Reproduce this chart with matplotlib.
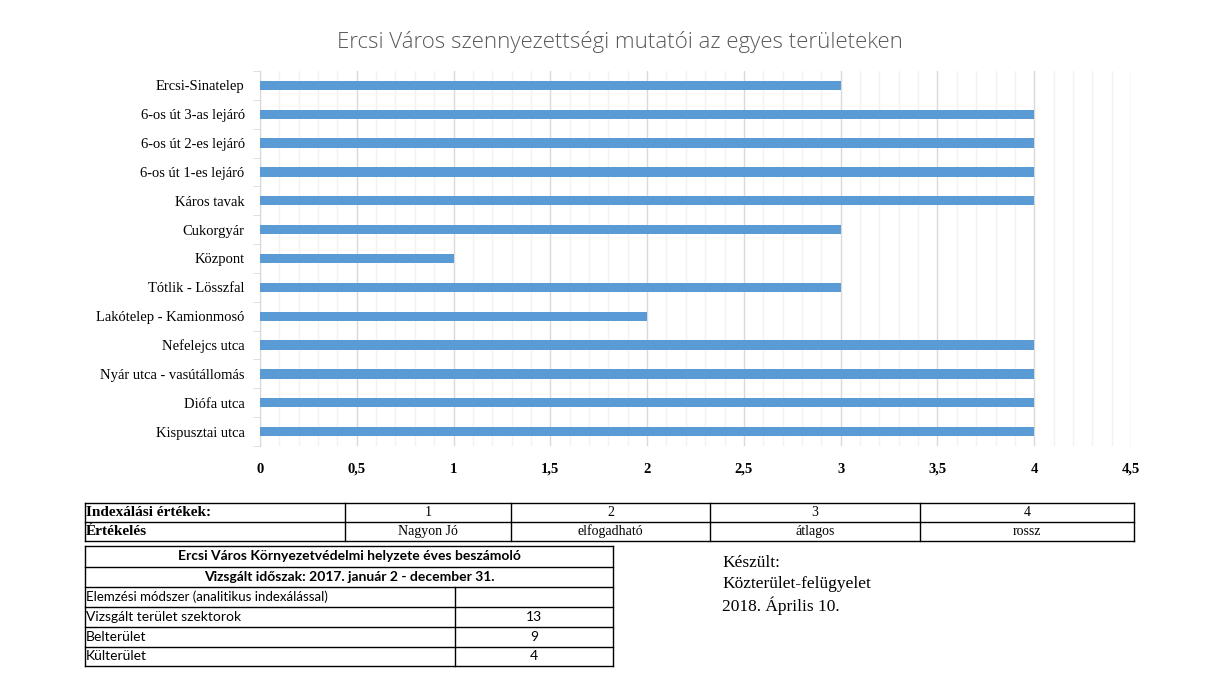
import matplotlib.pyplot as plt
from matplotlib.ticker import MultipleLocator, FuncFormatter
import numpy as np

# chart data (bottom to top in the picture)
areas = ["Kispusztai utca", "Diófa utca", "Nyár utca - vasútállomás", "Nefelejcs utca",
         "Lakótelep - Kamionmosó", "Tótlik - Lösszfal", "Központ", "Cukorgyár",
         "Káros tavak", "6-os út 1-es lejáró", "6-os út 2-es lejáró",
         "6-os út 3-as lejáró", "Ercsi-Sinatelep"]
values = [4, 4, 4, 4, 2, 3, 1, 3, 4, 4, 4, 4, 3]

title = "Ercsi Város szennyezettségi mutatói az egyes területeken"

# index table
index_header = ["Indexálási értékek:", "1", "2", "3", "4"]
index_rating = ["Értékelés", "Nagyon Jó", "elfogadható", "átlagos", "rossz"]

# report table
report_title = "Ercsi Város Környezetvédelmi helyzete éves beszámoló"
report_period = "Vizsgált időszak: 2017. január 2 - december 31."
report_rows = ["Elemzési módszer (analitikus indexálással)", "Vizsgált terület szektorok",
               "Belterület", "Külterület"]
report_values = ["", "13", "9", "4"]

made_by = ["Készült:", "Közterület-felügyelet", "2018. Április 10."]

W, H = 1216, 677
fig = plt.figure(figsize=(W / 100, H / 100), dpi=100)
fig.patch.set_facecolor("white")

ax = fig.add_axes([260 / W, 1 - 446 / H, (1131 - 260) / W, (446 - 71) / H])
y = np.arange(len(areas))
ax.barh(y, values, height=0.32, color="#5B9BD5", zorder=3)
ax.set_xlim(0, 4.5)
ax.set_ylim(-0.5, len(areas) - 0.5)
ax.xaxis.set_major_locator(MultipleLocator(0.5))
ax.xaxis.set_minor_locator(MultipleLocator(0.1))
ax.xaxis.set_major_formatter(FuncFormatter(lambda v, p: f"{v:g}".replace(".", ",")))
ax.grid(axis="x", which="major", color="#d9d9d9", lw=1, zorder=0)
ax.grid(axis="x", which="minor", color="#f2f2f2", lw=1, zorder=0)
ax.set_yticks(y)
ax.set_yticklabels(areas, family="Liberation Serif", fontsize=10.5)
ax.set_yticks(np.arange(-0.5, len(areas), 1), minor=True)
ax.tick_params(axis="y", which="major", length=0, pad=11)
ax.tick_params(axis="y", which="minor", length=5, color="#d9d9d9", direction="out")
ax.tick_params(axis="x", which="both", length=0, pad=12)
for lab in ax.get_xticklabels():
    lab.set_family("Liberation Serif")
    lab.set_fontweight("bold")
    lab.set_fontsize(10.5)
for s in ["top", "right", "bottom"]:
    ax.spines[s].set_visible(False)
ax.spines["left"].set_color("#d9d9d9")

fig.text(620 / W, 1 - 42 / H, title, ha="center", va="center", fontsize=16,
         color="#595959", family="Open Sans", fontweight="light")

# overlay in pixel coordinates for the tables
ov = fig.add_axes([0, 0, 1, 1])
ov.set_xlim(0, W)
ov.set_ylim(H, 0)
ov.axis("off")

def hline(x0, x1, yy, lw=1.0):
    ov.plot([x0, x1], [yy, yy], color="black", lw=lw)

def vline(xx, y0, y1, lw=1.0):
    ov.plot([xx, xx], [y0, y1], color="black", lw=lw)

# index table
cols = [85, 345, 511, 710, 920, 1134]
rows = [503, 522, 541]
for r in rows:
    hline(cols[0], cols[-1], r)
for c in cols:
    vline(c, rows[0], rows[-1])
for i in range(5):
    cx = (cols[i] + cols[i + 1]) / 2
    for rr, txt in ((0, index_header[i]), (1, index_rating[i])):
        cy = (rows[rr] + rows[rr + 1]) / 2
        if i == 0:
            ov.text(cols[0] + 1, cy, txt, ha="left", va="center", fontsize=11,
                    family="Liberation Serif", fontweight="bold")
        else:
            ov.text(cx, cy, txt, ha="center", va="center", fontsize=10,
                    family="Liberation Serif")

# report table
rx0, rx1, rsplit = 85, 613, 455
ry = [546, 567, 587, 607, 627, 647, 666]
for r in ry:
    hline(rx0, rx1, r)
vline(rx0, ry[0], ry[-1])
vline(rx1, ry[0], ry[-1])
vline(rsplit, ry[2], ry[-1])
ov.text((rx0 + rx1) / 2, (ry[0] + ry[1]) / 2, report_title, ha="center", va="center",
        fontsize=10, family="Lato", fontweight="bold")
ov.text((rx0 + rx1) / 2, (ry[1] + ry[2]) / 2, report_period, ha="center", va="center",
        fontsize=10, family="Lato", fontweight="bold")
for k, (lab, val) in enumerate(zip(report_rows, report_values)):
    cy = (ry[k + 2] + ry[k + 3]) / 2
    ov.text(rx0 + 1, cy, lab, ha="left", va="center", fontsize=9.5 if k == 0 else 10,
            family="Lato")
    ov.text((rsplit + rx1) / 2, cy, val, ha="center", va="center", fontsize=10,
            family="Lato")

for k, line in enumerate(made_by):
    ov.text(722, 563 + k * 21.5, line, ha="left", va="center", fontsize=12.5,
            family="Liberation Serif")

fig.savefig("out.png", dpi=100)
